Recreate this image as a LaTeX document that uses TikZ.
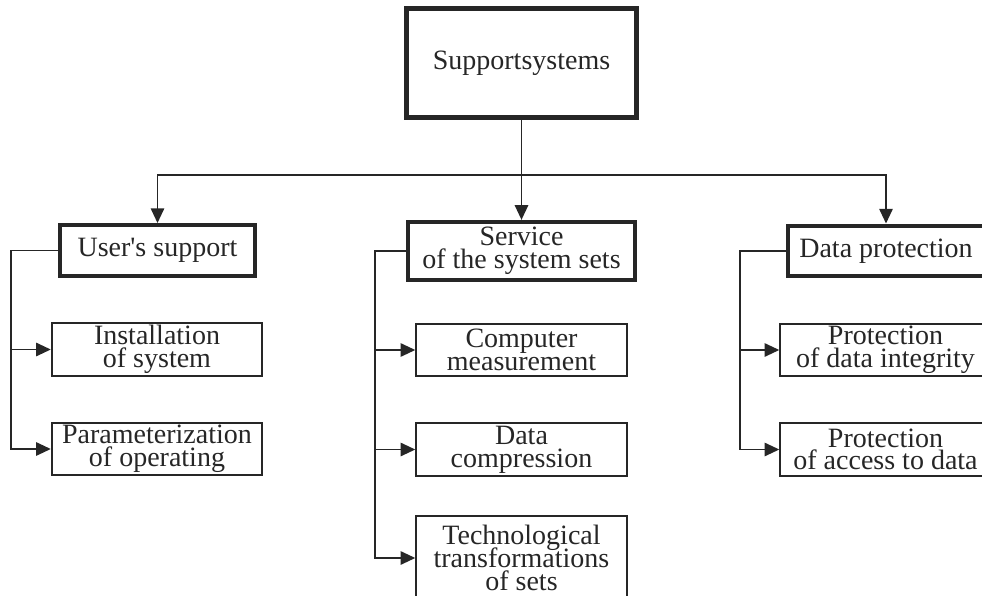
\documentclass[tikz,border=0pt]{standalone}
\usepackage{fontspec}
\newfontfamily\boxfont{Liberation Serif}
\usetikzlibrary{arrows.meta, positioning}

\definecolor{ink}{HTML}{262626}
\setlength{\lineskiplimit}{-20pt}

\begin{document}
\begin{tikzpicture}[
    x=0.75pt, y=-0.75pt,
    box/.style={
        rectangle,
        draw=ink,
        text=ink,
        align=center,
        inner sep=0pt,
        font=\boxfont\fontsize{21}{17}\selectfont
    },
    topbox/.style={box, line width=3.6pt, minimum width=172pt, minimum height=82pt},
    groupbox/.style={box, line width=3.2pt, minimum height=38pt},
    itembox/.style={box, line width=1.3pt, minimum width=158pt, minimum height=39.5pt},
    link/.style={draw=ink, line width=1.3pt, -{Triangle[length=11pt, width=10pt]}}
]
\useasboundingbox (0,0) rectangle (982,596);
\clip (0,0) rectangle (982,596);

% top level
\node[topbox] (sys) at (521.5,63) {Supportsystems};
\coordinate (bus) at (521.5,175);

% groups
\node[groupbox, minimum width=146pt] (user) at (157.5,250.5) {User's support};
\node[groupbox, minimum width=170pt, minimum height=43.5pt] (serv) at (521.5,251) {Service\\of the system sets};
\node[groupbox, minimum width=147pt] (prot) at (886,251) {Data protection};

% items
\node[itembox] (inst) at (157,349.5) {Installation\\of system};
\node[itembox] (param) at (157,449) {Parameterization\\of operating};

\node[itembox] (comp) at (521.5,350) {Computer\\measurement};
\node[itembox] (compr) at (521.5,449.5) {Data\\compression};
\node[itembox, minimum height=63pt] (techn) at (521.5,558) {Technological\\transformations\\of sets};

\node[itembox] (integ) at (885.5,350) {Protection\\of data integrity};
\node[itembox] (access) at (885.5,449.5) {Protection\\of access to data};

% connectors
\draw[link, -] (sys.south) -- (bus);
\draw[link] (bus) -| (user.north);
\draw[link] (bus) -- (serv.north);
\draw[link] (bus) -| (prot.north);

\draw[link] (user.west) -- ++(-47,0) |- (inst);
\draw[link] (user.west) -- ++(-47,0) |- (param);

\draw[link] (serv.west) -- ++(-31,0) |- (comp);
\draw[link] (serv.west) -- ++(-31,0) |- (compr);
\draw[link] (serv.west) -- ++(-31,0) |- (techn);

\draw[link] (prot.west) -- ++(-46,0) |- (integ);
\draw[link] (prot.west) -- ++(-46,0) |- (access);

\end{tikzpicture}
\end{document}
